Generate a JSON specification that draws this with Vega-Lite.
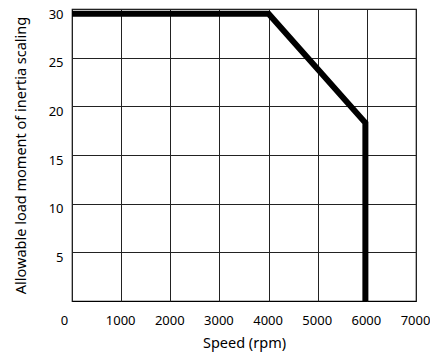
{
  "$schema": "https://vega.github.io/schema/vega-lite/v6.json",
  "autosize": "none",
  "width": 344,
  "height": 292,
  "padding": {"left": 72, "top": 9, "right": 14, "bottom": 57},
  "background": "white",
  "config": {
    "font": "Noto Sans",
    "view": {"stroke": "black", "strokeWidth": 1.2},
    "axis": {
      "labelFont": "Noto Sans",
      "titleFont": "Noto Sans",
      "labelFontSize": 13,
      "titleFontSize": 14.5,
      "labelColor": "black",
      "titleColor": "black",
      "titleFontWeight": "normal",
      "domain": false,
      "ticks": false,
      "gridColor": "#222",
      "gridOpacity": 1,
      "gridWidth": 1
    }
  },
  "data": {
    "values": [
      {"speed": 0, "inertia": 29.5},
      {"speed": 4000, "inertia": 29.5},
      {"speed": 5970, "inertia": 18.3},
      {"speed": 5970, "inertia": 0}
    ]
  },
  "mark": {"type": "line", "color": "black", "strokeWidth": 6, "strokeJoin": "miter", "strokeCap": "butt", "clip": true},
  "encoding": {
    "x": {
      "field": "speed",
      "type": "quantitative",
      "scale": {"domain": [0, 7000], "nice": false},
      "axis": {
        "values": [0, 1000, 2000, 3000, 4000, 5000, 6000, 7000],
        "format": "d",
        "title": "Speed (rpm)",
        "labelPadding": 13,
        "labelOffset": {"condition": {"test": "datum.value == 0", "value": -8}, "value": -1},
        "titlePadding": 9,
        "labelFlush": false
      }
    },
    "y": {
      "field": "inertia",
      "type": "quantitative",
      "scale": {"domain": [0, 30], "nice": false},
      "axis": {
        "values": [5, 10, 15, 20, 25, 30],
        "title": "Allowable load moment of inertia scaling",
        "labelPadding": 9,
        "labelOffset": 5,
        "titlePadding": 20
      }
    },
    "order": {"field": "speed", "type": "quantitative"}
  }
}
